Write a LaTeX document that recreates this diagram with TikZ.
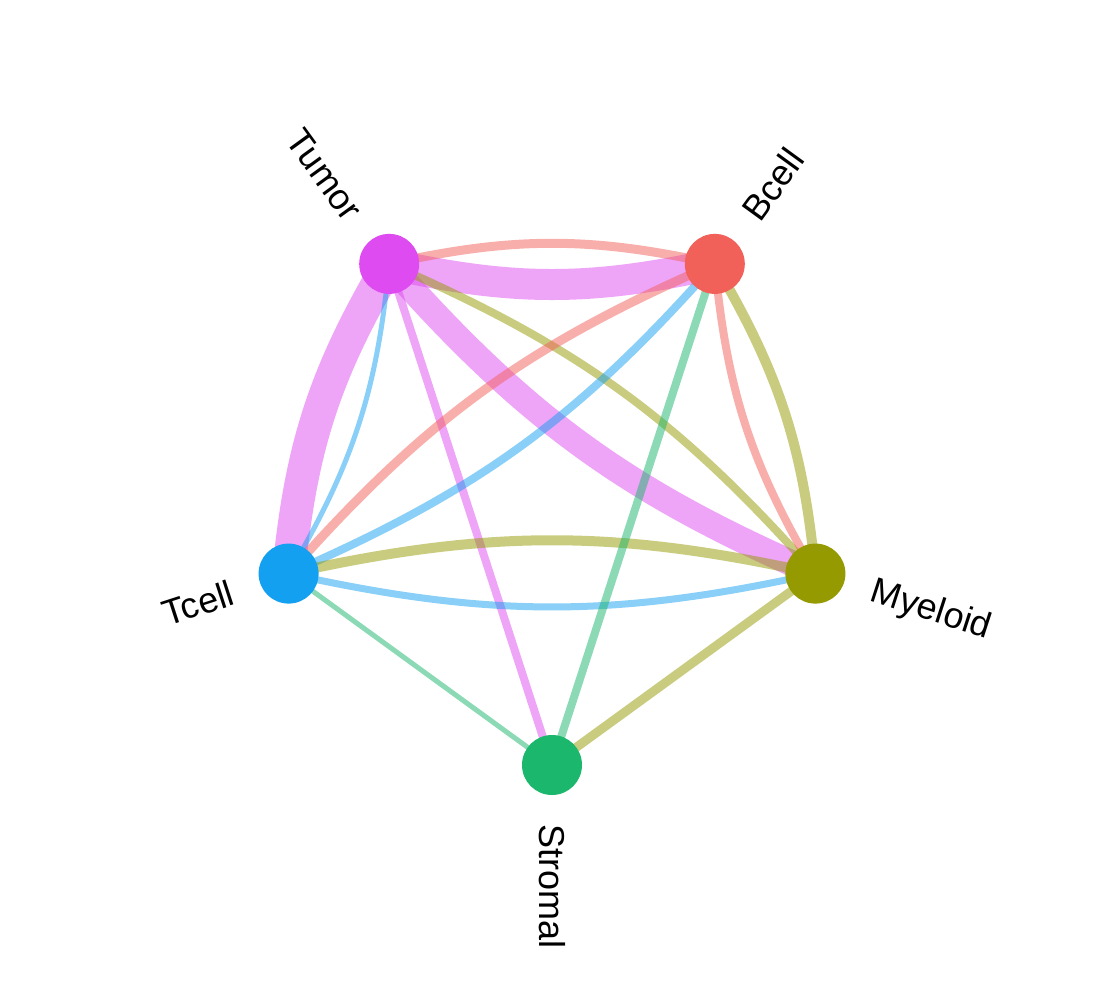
\documentclass[tikz,border=0pt]{standalone}
\usepackage{fontspec}
\setmainfont{Liberation Sans}
\pgfdeclarelayer{bg}
\pgfsetlayers{bg,main}
\definecolor{cTumor}{HTML}{DE4BF1}
\definecolor{cBcell}{HTML}{F2605A}
\definecolor{cMyeloid}{HTML}{949A00}
\definecolor{cStromal}{HTML}{1BB76C}
\definecolor{cTcell}{HTML}{14A0F0}
\tikzset{
  cell/.style={circle, minimum size=60pt, inner sep=0pt, draw=none},
  lab/.style={font=\fontsize{36}{40}\selectfont, inner sep=0pt, text=black},
  edge/.style={draw opacity=0.5, line cap=butt},
  curv/.style={bend right=12.5}
}
\begin{document}
\begin{tikzpicture}[x=1pt,y=1pt]
\useasboundingbox (0,0) rectangle (1098,-984);

\node[cell, fill=cTumor]   (Tumor)   at (389.2,-263.9) {};
\node[cell, fill=cBcell]   (Bcell)   at (714.8,-263.9) {};
\node[cell, fill=cMyeloid] (Myeloid) at (815.4,-573.6) {};
\node[cell, fill=cStromal] (Stromal) at (552,-765) {};
\node[cell, fill=cTcell]   (Tcell)   at (288.6,-573.6) {};

\path (Tumor.center)   ++(126:59pt) node[lab, rotate=-54, anchor=east] (lTumor) {Tumor};
\path (Bcell.center)   ++(54:59pt)  node[lab, rotate=54,  anchor=west] (lBcell) {Bcell};
\path (Myeloid.center) ++(-18:59pt) node[lab, rotate=-18, anchor=west] (lMyeloid) {Myeloid};
\path (Stromal.center) ++(-90:59pt) node[lab, rotate=-90, anchor=west] (lStromal) {Stromal};
\path (Tcell.center)   ++(198:59pt) node[lab, rotate=18,  anchor=east] (lTcell) {Tcell};

\begin{pgfonlayer}{bg}
\fill[white] (0,0) rectangle (1098,-984);
\draw[edge, cTumor,   line width=31pt, curv] (Tumor.center) to (Bcell.center);
\draw[edge, cBcell,   line width=9pt,  curv] (Bcell.center) to (Tumor.center);
\draw[edge, cTumor,   line width=33pt, curv] (Tumor.center) to (Tcell.center);
\draw[edge, cTcell,   line width=5pt,  curv] (Tcell.center) to (Tumor.center);
\draw[edge, cTumor,   line width=26pt, curv] (Tumor.center) to (Myeloid.center);
\draw[edge, cMyeloid, line width=8pt,  curv] (Myeloid.center) to (Tumor.center);
\draw[edge, cTumor,   line width=8pt]        (Tumor.center) to (Stromal.center);
\draw[edge, cBcell,   line width=9pt,  curv] (Bcell.center) to (Tcell.center);
\draw[edge, cTcell,   line width=8pt,  curv] (Tcell.center) to (Bcell.center);
\draw[edge, cBcell,   line width=8pt,  curv] (Bcell.center) to (Myeloid.center);
\draw[edge, cMyeloid, line width=10pt, curv] (Myeloid.center) to (Bcell.center);
\draw[edge, cTcell,   line width=7pt,  curv] (Tcell.center) to (Myeloid.center);
\draw[edge, cMyeloid, line width=10pt, curv] (Myeloid.center) to (Tcell.center);
\draw[edge, cMyeloid, line width=9pt]        (Myeloid.center) to (Stromal.center);
\draw[edge, cStromal, line width=5pt]        (Stromal.center) to (Tcell.center);
\draw[edge, cStromal, line width=8pt]        (Stromal.center) to (Bcell.center);
\end{pgfonlayer}
\end{tikzpicture}
\end{document}
